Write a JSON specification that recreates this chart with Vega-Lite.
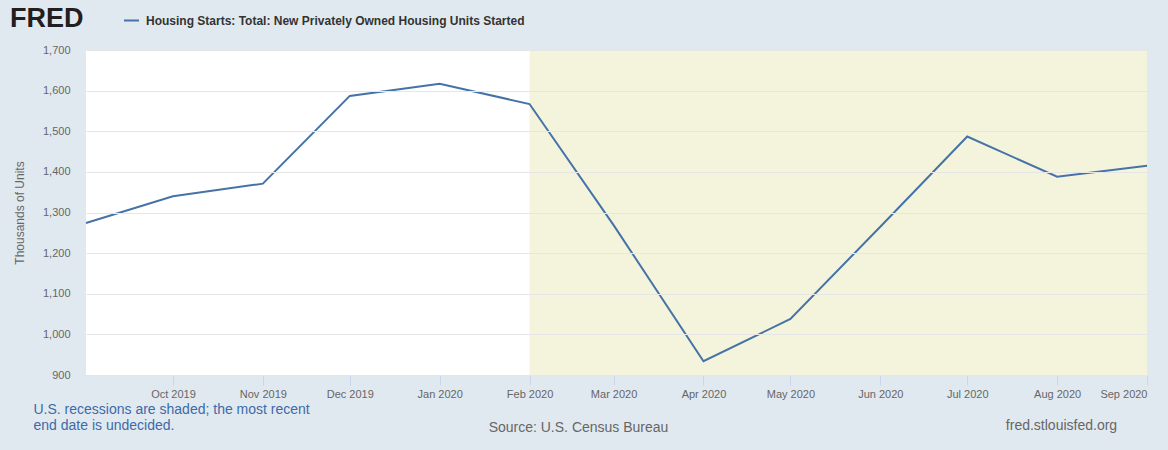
{
  "$schema": "https://vega.github.io/schema/vega-lite/v6.json",
  "width": 1061,
  "height": 325,
  "autosize": {"type": "none"},
  "padding": {"left": 86, "top": 50, "right": 21, "bottom": 75},
  "background": "#e1e9f0",
  "config": {
    "view": {"fill": "#ffffff", "stroke": null},
    "font": "Liberation Sans"
  },
  "title": {
    "text": "Source: U.S. Census Bureau",
    "orient": "bottom",
    "anchor": "middle",
    "frame": "group",
    "dx": -38,
    "dy": -8,
    "fontSize": 14,
    "fontWeight": "normal",
    "color": "#666666",
    "baseline": "middle"
  },
  "layer": [
    {
      "data": {"values": [{"start": "2020-02-01", "end": "2020-09-01"}]},
      "mark": {"type": "rect", "color": "#f4f4dc"},
      "encoding": {
        "x": {
          "field": "start",
          "type": "temporal",
          "scale": {"type": "utc", "nice": false},
          "axis": {
            "orient": "top",
            "labels": false,
            "ticks": false,
            "domain": false,
            "grid": false,
            "title": "fred.stlouisfed.org",
            "titleX": 975,
            "titleY": 375,
            "titleAlign": "center",
            "titleBaseline": "middle",
            "titleAngle": 0,
            "titleFontSize": 14,
            "titleFontWeight": "normal",
            "titleColor": "#666666"
          }
        },
        "x2": {"field": "end"}
      }
    },
    {
      "data": {
        "values": [
          {"date": "2019-09-01", "value": 1274},
          {"date": "2019-10-01", "value": 1340},
          {"date": "2019-11-01", "value": 1371},
          {"date": "2019-12-01", "value": 1587},
          {"date": "2020-01-01", "value": 1617},
          {"date": "2020-02-01", "value": 1567},
          {"date": "2020-03-01", "value": 1269},
          {"date": "2020-04-01", "value": 934},
          {"date": "2020-05-01", "value": 1038},
          {"date": "2020-06-01", "value": 1265},
          {"date": "2020-07-01", "value": 1487},
          {"date": "2020-08-01", "value": 1388},
          {"date": "2020-09-01", "value": 1415}
        ]
      },
      "mark": {"type": "line", "strokeWidth": 2},
      "encoding": {
        "x": {
          "field": "date",
          "type": "temporal",
          "scale": {
            "type": "utc",
            "nice": false,
            "domain": [
              {"year": 2019, "month": 9, "date": 1, "utc": true},
              {"year": 2020, "month": 9, "date": 1, "utc": true}
            ]
          },
          "axis": {
            "orient": "bottom",
            "values": [
              {"year": 2019, "month": 10, "date": 1, "utc": true},
              {"year": 2019, "month": 11, "date": 1, "utc": true},
              {"year": 2019, "month": 12, "date": 1, "utc": true},
              {"year": 2020, "month": 1, "date": 1, "utc": true},
              {"year": 2020, "month": 2, "date": 1, "utc": true},
              {"year": 2020, "month": 3, "date": 1, "utc": true},
              {"year": 2020, "month": 4, "date": 1, "utc": true},
              {"year": 2020, "month": 5, "date": 1, "utc": true},
              {"year": 2020, "month": 6, "date": 1, "utc": true},
              {"year": 2020, "month": 7, "date": 1, "utc": true},
              {"year": 2020, "month": 8, "date": 1, "utc": true},
              {"year": 2020, "month": 9, "date": 1, "utc": true}
            ],
            "format": "%b %Y",
            "labelFontSize": 11,
            "labelColor": "#666666",
            "labelPadding": 3,
            "labelOverlap": false,
            "labelFlush": false,
            "labelAlign": {"condition": {"test": "datum.index == 1", "value": "right"}, "value": "center"},
            "tickColor": "#ccd6eb",
            "tickSize": 10,
            "domainColor": "#ccd6eb",
            "grid": false,
            "title": ["U.S. recessions are shaded; the most recent", "end date is undecided."],
            "titleX": -53,
            "titleY": 27,
            "titleAlign": "left",
            "titleBaseline": "top",
            "titleAnchor": null,
            "titleFontSize": 14,
            "titleFontWeight": "normal",
            "titleColor": "#3d6aa8",
            "titleLineHeight": 16
          }
        },
        "y": {
          "field": "value",
          "type": "quantitative",
          "scale": {"domain": [900, 1700], "nice": false, "zero": false},
          "axis": {
            "values": [900, 1000, 1100, 1200, 1300, 1400, 1500, 1600, 1700],
            "format": ",d",
            "grid": true,
            "gridColor": "#e6e6e6",
            "ticks": false,
            "domain": false,
            "labelPadding": 16,
            "labelFontSize": 11,
            "labelColor": "#666666",
            "title": "Thousands of Units",
            "titleFontSize": 12,
            "titleFontWeight": "normal",
            "titleColor": "#666666",
            "titleX": -67,
            "titleY": 162.5,
            "titleAngle": -90,
            "titleAlign": "center",
            "titleBaseline": "middle",
            "zindex": 1
          }
        },
        "color": {
          "datum": "Housing Starts: Total: New Privately Owned Housing Units Started",
          "type": "nominal",
          "scale": {"range": ["#4572a7"]},
          "legend": {
            "orient": "none",
            "legendX": -76,
            "legendY": -38,
            "title": "FRED",
            "titleOrient": "left",
            "titleFontSize": 27,
            "titleFontWeight": "bold",
            "titleColor": "#231f20",
            "titlePadding": 39,
            "padding": 0,
            "symbolType": "stroke",
            "symbolStrokeWidth": 2,
            "symbolSize": 225,
            "labelFontSize": 12,
            "labelFontWeight": "bold",
            "labelColor": "#333333",
            "labelOffset": 6,
            "labelLimit": 600
          }
        }
      }
    }
  ],
  "resolve": {"axis": {"x": "independent"}}
}
